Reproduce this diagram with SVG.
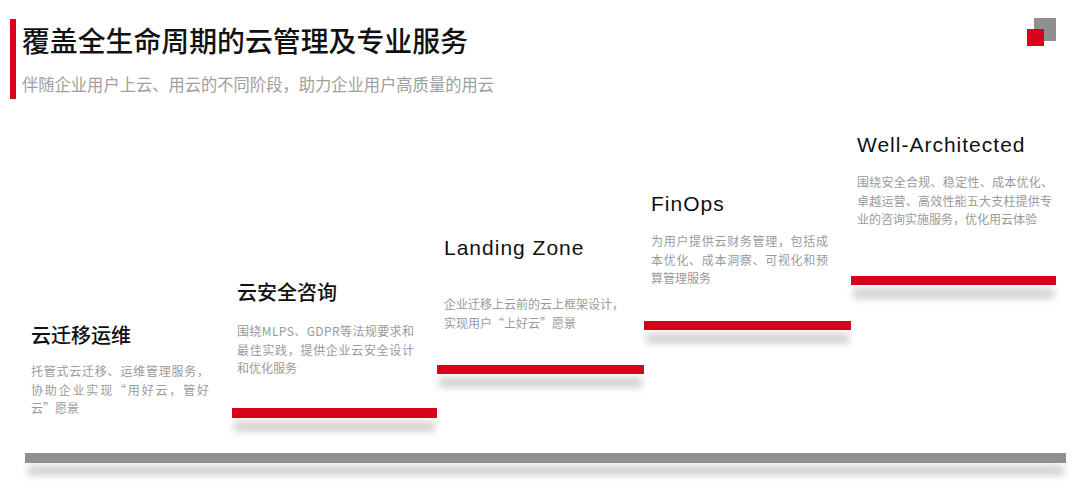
<svg xmlns="http://www.w3.org/2000/svg" width="1080" height="501" viewBox="0 0 1080 501">
<defs>
<style>
.title{font-family:"Noto Sans CJK SC",sans-serif;font-size:28px;font-weight:500;fill:#111}
.sub{font-family:"Noto Sans CJK SC",sans-serif;font-size:17px;fill:#a0a0a0}
.st{font-family:"Noto Sans CJK SC",sans-serif;font-size:20px;font-weight:500;fill:#111}
.stl{font-family:"Liberation Sans","Noto Sans CJK SC",sans-serif;font-size:21px;letter-spacing:1px;fill:#111}
.d{font-family:"Noto Sans CJK SC",sans-serif;font-size:12px;fill:#9a9a9a}
.red{fill:#d9001b}
.shadow{fill:#d4d4d4;filter:url(#blur)}
</style>
<filter id="blur" x="-10%" y="-200%" width="120%" height="500%"><feGaussianBlur stdDeviation="3.5"/></filter>
</defs>
<rect width="1080" height="501" fill="#fff"/>
<g id="header">
<rect x="10" y="19" width="6" height="80" class="red"/>
<text x="22" y="52" class="title" textLength="446" lengthAdjust="spacingAndGlyphs">覆盖全生命周期的云管理及专业服务</text>
<text x="22" y="91" class="sub" textLength="472" lengthAdjust="spacingAndGlyphs">伴随企业用户上云、用云的不同阶段，助力企业用户高质量的用云</text>
</g>
<g id="logo">
<rect x="1034" y="18" width="22" height="23" fill="#8f8f8f"/>
<rect x="1027" y="29" width="17" height="17" class="red"/>
</g>
<g id="connectors">
<rect x="28" y="465" width="1036" height="11" class="shadow"/>
<rect x="25" y="453" width="1041" height="10" fill="#909090"/>
<rect x="234" y="421" width="201" height="11" class="shadow"/>
<rect x="232" y="408" width="205" height="10" class="red"/>
<rect x="439" y="377" width="203" height="11" class="shadow"/>
<rect x="437" y="365" width="207" height="9" class="red"/>
<rect x="646" y="333" width="203" height="11" class="shadow"/>
<rect x="644" y="321" width="207" height="9" class="red"/>
<rect x="853" y="288" width="201" height="11" class="shadow"/>
<rect x="851" y="276" width="205" height="9" class="red"/>
</g>
<g id="step1">
<text x="31" y="343" class="st">云迁移运维</text>
<text x="31" y="376" class="d" textLength="178" lengthAdjust="spacing">托管式云迁移、运维管理服务，</text>
<text x="31" y="394.5" class="d" textLength="178" lengthAdjust="spacing">协助企业实现“用好云，管好</text>
<text x="31" y="413" class="d">云”愿景</text>
</g>
<g id="step2">
<text x="237" y="300" class="st">云安全咨询</text>
<text x="237" y="336" class="d" textLength="177" lengthAdjust="spacing">围绕MLPS、GDPR等法规要求和</text>
<text x="237" y="354.5" class="d" textLength="177" lengthAdjust="spacing">最佳实践，提供企业云安全设计</text>
<text x="237" y="373" class="d">和优化服务</text>
</g>
<g id="step3">
<text x="444" y="255" class="stl">Landing Zone</text>
<text x="444" y="309" class="d" textLength="180" lengthAdjust="spacing">企业迁移上云前的云上框架设计，</text>
<text x="444" y="327.5" class="d">实现用户“上好云”愿景</text>
</g>
<g id="step4">
<text x="651" y="211" class="stl">FinOps</text>
<text x="651" y="246" class="d" textLength="177" lengthAdjust="spacing">为用户提供云财务管理，包括成</text>
<text x="651" y="264.5" class="d" textLength="177" lengthAdjust="spacing">本优化、成本洞察、可视化和预</text>
<text x="651" y="283" class="d">算管理服务</text>
</g>
<g id="step5">
<text x="857" y="152" class="stl">Well-Architected</text>
<text x="857" y="187" class="d" textLength="196" lengthAdjust="spacing">围绕安全合规、稳定性、成本优化、</text>
<text x="857" y="205.5" class="d" textLength="195" lengthAdjust="spacing">卓越运营、高效性能五大支柱提供专</text>
<text x="857" y="224" class="d">业的咨询实施服务，优化用云体验</text>
</g>
</svg>
